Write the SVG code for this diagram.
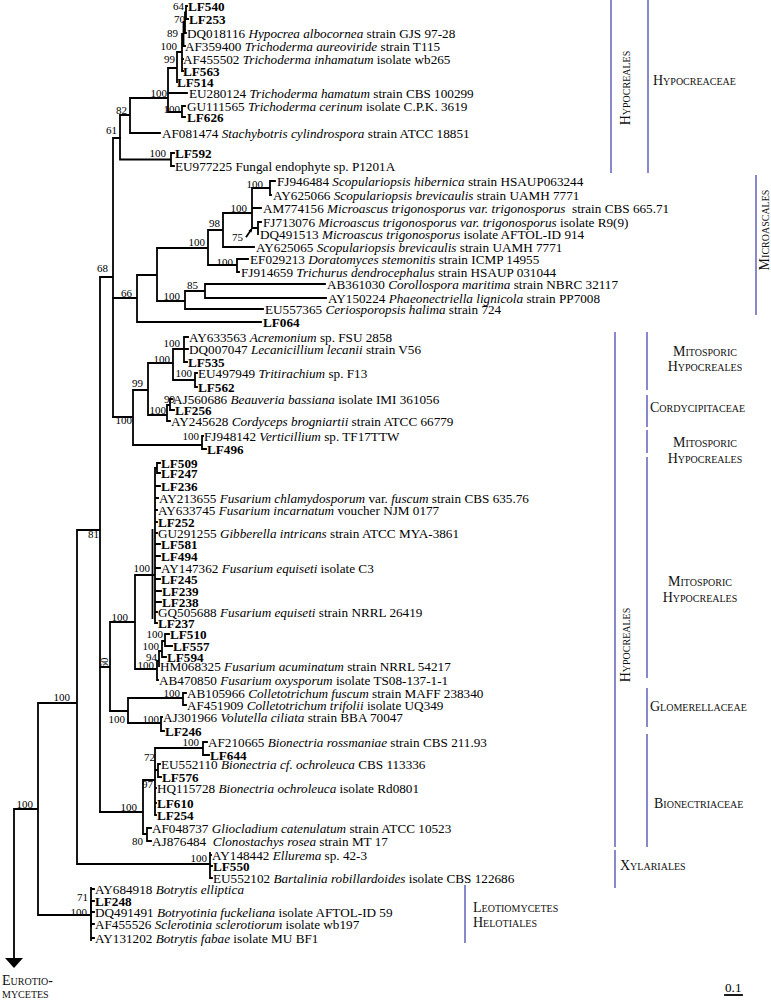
<svg xmlns="http://www.w3.org/2000/svg" width="771" height="1000" viewBox="0 0 771 1000">
<style>
.t{font-family:"Liberation Serif","Times New Roman",serif;font-size:13.2px;fill:#000}
.b{font-weight:bold}
.i{font-style:italic}
.bs{font-family:"Liberation Serif","Times New Roman",serif;font-size:11px;fill:#000;text-anchor:end}
.sc{font-family:"Liberation Serif","Times New Roman",serif;font-size:14px;font-variant:small-caps;fill:#111}
.br{stroke:#000;stroke-width:1.8;fill:none;stroke-linecap:square}
.cl{stroke:#6060bc;stroke-width:1.5;fill:none}
</style>
<rect width="771" height="1000" fill="#fff"/>
<g id="connectors">
<path class="br" d="M14,809 V958 M14,809 H38 M38,703 V915 M38,915 H91 M38,703 H77 M77,530 V864 M77,864 H210 M77,530 H100 M100,277 V812 M100,277 H113 M113,138 V417 M113,138 H120"/>
<polygon points="5,958 23,958 14,968" fill="#000"/>
<path class="br" d="M120,115 V159.5 M120,115 H130 M130,98 V133 M130,133 H160 M130,98 H168 M168,68 V112 M168,93 H187 M168,112 H182 M182,106 V117 M182,106 H185 M182,117 H185 M168,68 H177 M177,52 V82 M177,52 H182 M182,34 V71 M182,59 H183 M182,71 H183 M182,34 H183.5 M183.5,22 V46 M183.5,46 H185 M183.5,22 H185 M185,12.5 V33 M185,33 H186 M185,12.5 H186 M186,6 V19 M186,6 H187 M186,19 H188 M120,159.5 H171 M171,153 V166 M171,153 H174 M171,166 H174"/>
<path class="br" d="M113,298 H137 M137,275 V322 M137,322 H261 M137,275 H157 M157,248 V301 M157,301 H185 M185,291 V309 M185,309 H263 M185,291 H205 M205,284 V298 M205,284 H325 M205,298 H326 M157,248 H208 M208,230 V265 M208,265 H237 M237,259 V272 M237,259 H248 M237,272 H239 M208,230 H223 M223,213 V247 M223,247 H254 M223,213 H252 M252,188 V228 M252,188 H270 M270,181 V195 M270,181 H275 M270,195 H271 M252,208 H261 M252,228 H258 M258,222 V234 M258,222 H261"/>
<path class="br" d="M246.5,236.5 L251,230" stroke-width="1"/>
<polygon points="252.5,228 248.5,230.5 251.5,232.5" fill="#000"/>
<path class="br" d="M113,417 H133 M133,390 V445 M133,445 H202 M202,436 V449 M202,436 H203 M202,449 H206 M133,390 H148 M148,363 V415 M148,415 H167 M167,405 V421 M167,421 H170 M167,405 H170 M170,399 V410 M170,399 H172 M170,410 H174 M148,363 H173 M173,349 V380 M173,380 H195 M195,373 V387 M195,373 H197 M195,387 H197 M173,349 H184 M184,337 V362 M184,337 H188 M184,349 H188 M184,362 H187"/>
<path class="br" d="M100,667 H110 M110,622 V711 M110,622 H135 M135,575 V669 M135,575 H155 M155,468 V623 M152.5,530 V618 M155,468 H157 M157,463 V473 M157,463 H160 M157,473 H160 M155,486 H160 M155,498 H158 M155,510 H157 M155,522 H157 M155,533 H157 M155,544 H160 M155,556 H160 M155,568 H160 M155,579 H160 M155,591 H161 M155,602 H161 M155,612 H157 M155,623 H157 M135,669 H157 M157,661 V680 M157,680 H158 M157,661 H159 M159,651 V666 M159,651 H162 M162,641 V657 M162,657 H166 M162,641 H165 M165,634 V646 M165,634 H169 M165,646 H172"/>
<path class="br" d="M110,711 H128 M128,698 V723 M128,698 H183 M183,693 V705 M183,693 H186 M183,705 H186 M128,723 H161 M161,717 V731 M161,717 H162 M161,731 H164"/>
<path class="br" d="M100,812 H143 M143,780 V834 M143,780 H155 M155,748 V815 M155,748 H203 M203,742 V755 M203,742 H207 M203,755 H209 M155,770 H158 M158,764 V777 M158,764 H160 M158,777 H161 M155,788 H156 M155,803 H156 M155,815 H156 M143,834 H147 M147,828 V841 M147,828 H151 M147,841 H151"/>
<path class="br" d="M210,853 V878 M210,855 H211 M210,866 H212 M210,878 H212"/>
<path class="br" d="M91,888 V940 M91,889 H94 M91,901 H94 M91,912 H94 M91,924 H94 M91,938 H94"/>
<path class="br" d="M91,901 V926" stroke-width="3"/>
<path class="br" d="M725,995 H742" stroke-width="1.3"/>
</g>
<g id="bootstrap">
<text class="bs" x="184" y="10">64</text>
<text class="bs" x="185" y="23">70</text>
<text class="bs" x="178" y="37">89</text>
<text class="bs" x="177" y="50">100</text>
<text class="bs" x="175" y="63">99</text>
<text class="bs" x="167" y="97">100</text>
<text class="bs" x="180" y="113">100</text>
<text class="bs" x="127" y="114">82</text>
<text class="bs" x="117" y="134">61</text>
<text class="bs" x="166" y="157">100</text>
<text class="bs" x="263" y="188">100</text>
<text class="bs" x="247" y="212">100</text>
<text class="bs" x="220" y="227">98</text>
<text class="bs" x="243" y="241">75</text>
<text class="bs" x="205" y="246">100</text>
<text class="bs" x="233" y="266">100</text>
<text class="bs" x="198" y="289">85</text>
<text class="bs" x="180" y="300">100</text>
<text class="bs" x="132" y="297">66</text>
<text class="bs" x="108" y="272">68</text>
<text class="bs" x="180" y="347">100</text>
<text class="bs" x="170" y="363">100</text>
<text class="bs" x="192" y="377">100</text>
<text class="bs" x="143" y="387">99</text>
<text class="bs" x="175" y="403">99</text>
<text class="bs" x="166" y="414">100</text>
<text class="bs" x="132" y="424">100</text>
<text class="bs" x="199" y="440">100</text>
<text class="bs" x="99" y="538">81</text>
<text class="bs" x="150" y="572">100</text>
<text class="bs" x="128" y="621">100</text>
<text class="bs" x="163" y="638">100</text>
<text class="bs" x="159" y="650">100</text>
<text class="bs" x="157" y="661">94</text>
<text class="bs" x="154" y="669">100</text>
<text class="bs" x="0" y="0" style="text-anchor:middle" transform="translate(108,663) rotate(-90)">60</text>
<text class="bs" x="180" y="697">100</text>
<text class="bs" x="159" y="723">100</text>
<text class="bs" x="125" y="723">100</text>
<text class="bs" x="199" y="746">100</text>
<text class="bs" x="155" y="761">72</text>
<text class="bs" x="153" y="788">97</text>
<text class="bs" x="137" y="811">100</text>
<text class="bs" x="143" y="845">80</text>
<text class="bs" x="207" y="862">100</text>
<text class="bs" x="88" y="901">71</text>
<text class="bs" x="87" y="916">100</text>
<text class="bs" x="70" y="701">100</text>
<text class="bs" x="33" y="808">100</text>
</g>
<g id="leaves">
<g id="n-LF540"><text class="t b" x="188" y="10.5">LF540</text></g>
<g id="n-LF253"><text class="t b" x="189" y="23.5">LF253</text></g>
<g id="n-DQ018116"><text class="t" x="187" y="37.5">DQ018116 <tspan class="i">Hypocrea albocornea</tspan> strain GJS 97-28</text></g>
<g id="n-AF359400"><text class="t" x="185" y="50.5">AF359400 <tspan class="i">Trichoderma aureoviride</tspan> strain T115</text></g>
<g id="n-AF455502"><text class="t" x="183" y="63.5">AF455502 <tspan class="i">Trichoderma inhamatum</tspan> isolate wb265</text></g>
<g id="n-LF563"><text class="t b" x="183" y="75.5">LF563</text></g>
<g id="n-LF514"><text class="t b" x="177" y="86.5">LF514</text></g>
<g id="n-EU280124"><text class="t" x="189" y="97.5">EU280124 <tspan class="i">Trichoderma hamatum</tspan> strain CBS 100299</text></g>
<g id="n-GU111565"><text class="t" x="187" y="110.5">GU111565 <tspan class="i">Trichoderma cerinum</tspan> isolate C.P.K. 3619</text></g>
<g id="n-LF626"><text class="t b" x="187" y="121.5">LF626</text></g>
<g id="n-AF081474"><text class="t" x="162" y="137.5">AF081474 <tspan class="i">Stachybotris cylindrospora</tspan> strain ATCC 18851</text></g>
<g id="n-LF592"><text class="t b" x="175" y="157.5">LF592</text></g>
<g id="n-EU977225"><text class="t" x="175" y="170.5">EU977225 Fungal endophyte sp. P1201A</text></g>
<g id="n-FJ946484"><text class="t" x="277" y="185.5">FJ946484 <tspan class="i">Scopulariopsis hibernica</tspan> strain HSAUP063244</text></g>
<g id="n-AY625066"><text class="t" x="273" y="199.5">AY625066 <tspan class="i">Scopulariopsis brevicaulis</tspan> strain UAMH 7771</text></g>
<g id="n-AM774156"><text class="t" x="263" y="212.5">AM774156 <tspan class="i">Microascus trigonosporus var. trigonosporus</tspan>&#160; strain CBS 665.71</text></g>
<g id="n-FJ713076"><text class="t" x="263" y="226.5">FJ713076 <tspan class="i">Microascus trigonosporus var. trigonosporus</tspan> isolate R9(9)</text></g>
<g id="n-DQ491513"><text class="t" x="260" y="238.5">DQ491513 <tspan class="i">Microascus trigonosporus</tspan> isolate AFTOL-ID 914</text></g>
<g id="n-AY625065"><text class="t" x="256" y="251.5">AY625065 <tspan class="i">Scopulariopsis brevicaulis</tspan> strain UAMH 7771</text></g>
<g id="n-EF029213"><text class="t" x="250" y="263.5">EF029213 <tspan class="i">Doratomyces stemonitis</tspan> strain ICMP 14955</text></g>
<g id="n-FJ914659"><text class="t" x="241" y="276.5">FJ914659 <tspan class="i">Trichurus dendrocephalus</tspan> strain HSAUP 031044</text></g>
<g id="n-AB361030"><text class="t" x="327" y="288.5">AB361030 <tspan class="i">Corollospora maritima</tspan> strain NBRC 32117</text></g>
<g id="n-AY150224"><text class="t" x="328" y="302.5">AY150224 <tspan class="i">Phaeonectriella lignicola</tspan> strain PP7008</text></g>
<g id="n-EU557365"><text class="t" x="265" y="313.5">EU557365 <tspan class="i">Ceriosporopsis halima</tspan> strain 724</text></g>
<g id="n-LF064"><text class="t b" x="263" y="326.5">LF064</text></g>
<g id="n-AY633563"><text class="t" x="189" y="341.5">AY633563 <tspan class="i">Acremonium</tspan> sp. FSU 2858</text></g>
<g id="n-DQ007047"><text class="t" x="189" y="353.5">DQ007047 <tspan class="i">Lecanicillium lecanii</tspan> strain V56</text></g>
<g id="n-LF535"><text class="t b" x="188" y="366.5">LF535</text></g>
<g id="n-EU497949"><text class="t" x="198" y="377.5">EU497949 <tspan class="i">Tritirachium</tspan> sp. F13</text></g>
<g id="n-LF562"><text class="t b" x="198" y="391.5">LF562</text></g>
<g id="n-AJ560686"><text class="t" x="173" y="403.5">AJ560686 <tspan class="i">Beauveria bassiana</tspan> isolate IMI 361056</text></g>
<g id="n-LF256"><text class="t b" x="175" y="414.5">LF256</text></g>
<g id="n-AY245628"><text class="t" x="171" y="425.5">AY245628 <tspan class="i">Cordyceps brogniartii</tspan> strain ATCC 66779</text></g>
<g id="n-FJ948142"><text class="t" x="204" y="440.5">FJ948142 <tspan class="i">Verticillium</tspan> sp. TF17TTW</text></g>
<g id="n-LF496"><text class="t b" x="207" y="453.5">LF496</text></g>
<g id="n-LF509"><text class="t b" x="161" y="467.5">LF509</text></g>
<g id="n-LF247"><text class="t b" x="161" y="477.5">LF247</text></g>
<g id="n-LF236"><text class="t b" x="161" y="490.5">LF236</text></g>
<g id="n-AY213655"><text class="t" x="159" y="502.5">AY213655 <tspan class="i">Fusarium chlamydosporum</tspan> var. <tspan class="i">fuscum</tspan> strain CBS 635.76</text></g>
<g id="n-AY633745"><text class="t" x="158" y="514.5">AY633745 <tspan class="i">Fusarium incarnatum</tspan> voucher NJM 0177</text></g>
<g id="n-LF252"><text class="t b" x="158" y="526.5">LF252</text></g>
<g id="n-GU291255"><text class="t" x="158" y="537.5">GU291255 <tspan class="i">Gibberella intricans</tspan> strain ATCC MYA-3861</text></g>
<g id="n-LF581"><text class="t b" x="161" y="548.5">LF581</text></g>
<g id="n-LF494"><text class="t b" x="161" y="560.5">LF494</text></g>
<g id="n-AY147362"><text class="t" x="161" y="572.5">AY147362 <tspan class="i">Fusarium equiseti</tspan> isolate C3</text></g>
<g id="n-LF245"><text class="t b" x="161" y="583.5">LF245</text></g>
<g id="n-LF239"><text class="t b" x="162" y="595.5">LF239</text></g>
<g id="n-LF238"><text class="t b" x="162" y="606.5">LF238</text></g>
<g id="n-GQ505688"><text class="t" x="158" y="616.5">GQ505688 <tspan class="i">Fusarium equiseti</tspan> strain NRRL 26419</text></g>
<g id="n-LF237"><text class="t b" x="158" y="627.5">LF237</text></g>
<g id="n-LF510"><text class="t b" x="170" y="638.5">LF510</text></g>
<g id="n-LF557"><text class="t b" x="173" y="650.5">LF557</text></g>
<g id="n-LF594"><text class="t b" x="167" y="661.5">LF594</text></g>
<g id="n-HM068325"><text class="t" x="160" y="670.5">HM068325 <tspan class="i">Fusarium acuminatum</tspan> strain NRRL 54217</text></g>
<g id="n-AB470850"><text class="t" x="159" y="684.5">AB470850 <tspan class="i">Fusarium oxysporum</tspan> isolate TS08-137-1-1</text></g>
<g id="n-AB105966"><text class="t" x="187" y="697.5">AB105966 <tspan class="i">Colletotrichum fuscum</tspan> strain MAFF 238340</text></g>
<g id="n-AF451909"><text class="t" x="187" y="709.5">AF451909 <tspan class="i">Colletotrichum trifolii</tspan> isolate UQ349</text></g>
<g id="n-AJ301966"><text class="t" x="163" y="721.5">AJ301966 <tspan class="i">Volutella ciliata</tspan> strain BBA 70047</text></g>
<g id="n-LF246"><text class="t b" x="165" y="735.5">LF246</text></g>
<g id="n-AF210665"><text class="t" x="208" y="746.5">AF210665 <tspan class="i">Bionectria rossmaniae</tspan> strain CBS 211.93</text></g>
<g id="n-LF644"><text class="t b" x="210" y="759.5">LF644</text></g>
<g id="n-EU552110"><text class="t" x="161" y="768.5">EU552110 <tspan class="i">Bionectria cf. ochroleuca</tspan> CBS 113336</text></g>
<g id="n-LF576"><text class="t b" x="162" y="781.5">LF576</text></g>
<g id="n-HQ115728"><text class="t" x="157" y="792.5">HQ115728 <tspan class="i">Bionectria ochroleuca</tspan> isolate Rd0801</text></g>
<g id="n-LF610"><text class="t b" x="157" y="807.5">LF610</text></g>
<g id="n-LF254"><text class="t b" x="157" y="819.5">LF254</text></g>
<g id="n-AF048737"><text class="t" x="152" y="832.5">AF048737 <tspan class="i">Gliocladium catenulatum</tspan> strain ATCC 10523</text></g>
<g id="n-AJ876484"><text class="t" x="152" y="845.5">AJ876484&#160; <tspan class="i">Clonostachys rosea</tspan> strain MT 17</text></g>
<g id="n-AY148442"><text class="t" x="212" y="859.5">AY148442 <tspan class="i">Ellurema</tspan> sp. 42-3</text></g>
<g id="n-LF550"><text class="t b" x="213" y="870.5">LF550</text></g>
<g id="n-EU552102"><text class="t" x="213" y="882.5">EU552102 <tspan class="i">Bartalinia robillardoides</tspan> isolate CBS 122686</text></g>
<g id="n-AY684918"><text class="t" x="95" y="893.5">AY684918 <tspan class="i">Botrytis elliptica</tspan></text></g>
<g id="n-LF248"><text class="t b" x="95" y="905.5">LF248</text></g>
<g id="n-DQ491491"><text class="t" x="95" y="916.5">DQ491491 <tspan class="i">Botryotinia fuckeliana</tspan> isolate AFTOL-ID 59</text></g>
<g id="n-AF455526"><text class="t" x="95" y="928.5">AF455526 <tspan class="i">Sclerotinia sclerotiorum</tspan> isolate wb197</text></g>
<g id="n-AY131202"><text class="t" x="95" y="942.5">AY131202 <tspan class="i">Botrytis fabae</tspan> isolate MU BF1</text></g>
</g>
<g id="clades">
<g id="c-hypocreales-top"><path class="cl" d="M611,0 V173"/><text class="sc" text-anchor="middle" transform="translate(630,88) rotate(-90)">Hypocreales</text></g>
<g id="c-hypocreaceae"><path class="cl" d="M648,0 V173"/><text class="sc" x="653" y="85">Hypocreaceae</text></g>
<g id="c-microascales"><path class="cl" d="M756,175 V315"/><text class="sc" text-anchor="middle" transform="translate(769,230) rotate(-90)">Microascales</text></g>
<g id="c-hypocreales"><path class="cl" d="M615,332 V847"/><text class="sc" text-anchor="middle" transform="translate(630,645) rotate(-90)">Hypocreales</text></g>
<g id="c-mito1"><path class="cl" d="M647,332 V390"/><text class="sc" x="705" y="356" text-anchor="middle">Mitosporic</text><text class="sc" x="705" y="371" text-anchor="middle">Hypocreales</text></g>
<g id="c-cordycipitaceae"><path class="cl" d="M647,395 V427"/><text class="sc" x="650" y="412">Cordycipitaceae</text></g>
<g id="c-mito2"><path class="cl" d="M647,430 V453"/><text class="sc" x="705" y="447" text-anchor="middle">Mitosporic</text><text class="sc" x="705" y="463" text-anchor="middle">Hypocreales</text></g>
<g id="c-mito3"><path class="cl" d="M647,457 V678"/><text class="sc" x="700" y="586" text-anchor="middle">Mitosporic</text><text class="sc" x="700" y="602" text-anchor="middle">Hypocreales</text></g>
<g id="c-glomerellaceae"><path class="cl" d="M647,688 V727"/><text class="sc" x="650" y="711">Glomerellaceae</text></g>
<g id="c-bionectriaceae"><path class="cl" d="M647,734 V847"/><text class="sc" x="654" y="808">Bionectriaceae</text></g>
<g id="c-xylariales"><path class="cl" d="M615,850 V888"/><text class="sc" x="620" y="870">Xylariales</text></g>
<g id="c-leotio"><path class="cl" d="M465,885 V943"/><text class="sc" x="473" y="912">Leotiomycetes</text><text class="sc" x="473" y="927">Helotiales</text></g>
<g id="c-eurotio"><text class="sc" x="2" y="985">Eurotio-</text><text class="sc" x="2" y="998">mycetes</text></g>
<g id="scale"><text class="t" x="725" y="992">0.1</text></g>
</g>
</svg>
